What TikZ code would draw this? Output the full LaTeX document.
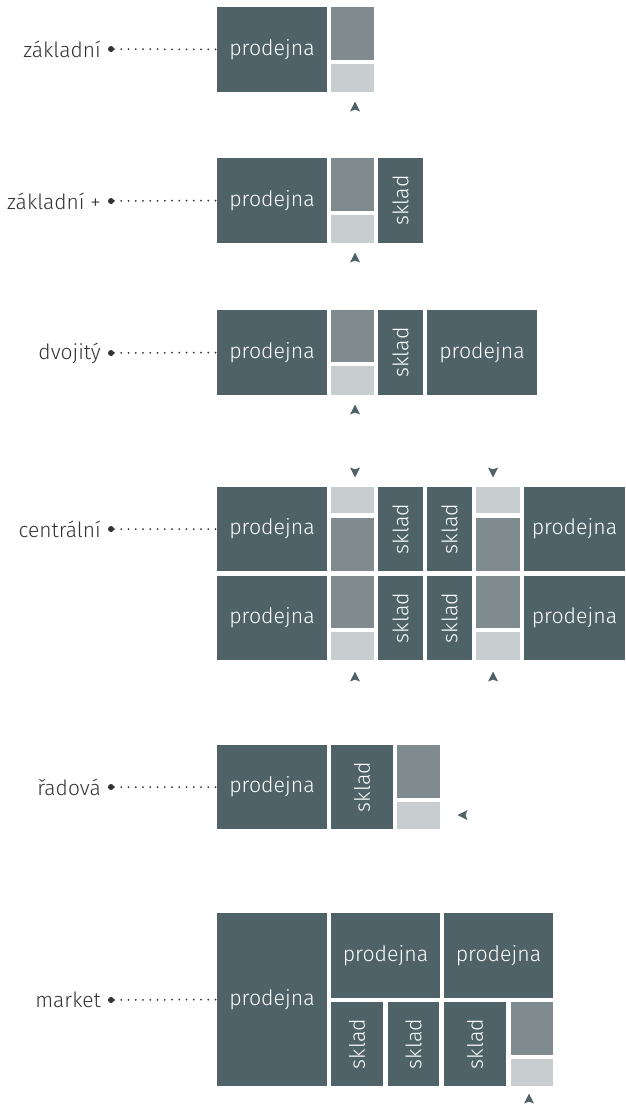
\documentclass[tikz,border=0pt]{standalone}
\usepackage{fontspec}
\setmainfont{Fira Sans Light}
\definecolor{dk}{HTML}{4F6267}
\definecolor{md}{HTML}{7F8B8E}
\definecolor{lt}{HTML}{C8CDCF}
\definecolor{lab}{HTML}{333333}
\newcommand\blk[7]{\node[#6, minimum width={#4-#2}, minimum height={#5-#3}] (#1) at ({(#2+#4)/2},{(#3+#5)/2}) {#7};}
\newcommand\skl{\rotatebox{90}{sklad}}
\begin{document}
\begin{tikzpicture}[x=1pt,y=-1pt,
  room/.style={inner sep=0pt, outer sep=0pt, draw=none},
  shop/.style={room, fill=dk, text=white, font=\fontsize{21.3}{25}\selectfont},
  mid/.style={room, fill=md},
  light/.style={room, fill=lt},
  lbl/.style={anchor=east, inner sep=0pt, text=lab, font=\fontsize{21}{25}\selectfont},
  dotnode/.style={circle, fill=lab, minimum size=6pt, inner sep=0pt, outer sep=0pt},
  dotline/.style={draw=lab, line width=2pt, line cap=round, dash pattern=on 0pt off 7.25pt},
  tri/.pic={\fill[dk] (0,-5.5) -- (5,4.5) -- (0,2.6) -- (-5,4.5) -- cycle;}
]
\useasboundingbox (0,0) rectangle (625,1106);

% row 1: zakladni
\blk{a1}{217}{7}{327}{92}{shop}{prodejna}
\blk{a2}{331}{7}{374}{60}{mid}{}
\blk{a3}{331}{64}{374}{92}{light}{}
\pic at (355,107) {tri};
\node[lbl] (la) at (101,49) {základní};
\node[dotnode] (da) at (111,49) {};
\draw[dotline] (da) -- (a1.west);

% row 2: zakladni +
\blk{b1}{217}{158}{327}{243}{shop}{prodejna}
\blk{b2}{331}{158}{374}{211}{mid}{}
\blk{b3}{331}{215}{374}{243}{light}{}
\blk{b4}{378}{158}{423}{243}{shop}{\skl}
\pic at (355,258) {tri};
\node[lbl] (lb) at (101,201) {základní +};
\node[dotnode] (db) at (111,201) {};
\draw[dotline] (db) -- (b1.west);

% row 3: dvojity
\blk{c1}{217}{310}{327}{395}{shop}{prodejna}
\blk{c2}{331}{310}{374}{362}{mid}{}
\blk{c3}{331}{366}{374}{395}{light}{}
\blk{c4}{378}{310}{423}{395}{shop}{\skl}
\blk{c5}{427}{310}{537}{395}{shop}{prodejna}
\pic at (355,410) {tri};
\node[lbl] (lc) at (101,353) {dvojitý};
\node[dotnode] (dc) at (111,353) {};
\draw[dotline] (dc) -- (c1.west);

% row 4: centralni
\blk{d1}{217}{487}{327}{571}{shop}{prodejna}
\blk{d2}{331}{487}{374}{513}{light}{}
\blk{d3}{331}{518}{374}{571}{mid}{}
\blk{d4}{378}{487}{423}{571}{shop}{\skl}
\blk{d5}{427}{487}{472}{571}{shop}{\skl}
\blk{d6}{476}{487}{520}{513}{light}{}
\blk{d7}{476}{518}{520}{571}{mid}{}
\blk{d8}{524}{487}{625}{571}{shop}{prodejna}
\blk{e1}{217}{576}{327}{660}{shop}{prodejna}
\blk{e2}{331}{576}{374}{628}{mid}{}
\blk{e3}{331}{632}{374}{660}{light}{}
\blk{e4}{378}{576}{423}{660}{shop}{\skl}
\blk{e5}{427}{576}{472}{660}{shop}{\skl}
\blk{e6}{476}{576}{520}{628}{mid}{}
\blk{e7}{476}{632}{520}{660}{light}{}
\blk{e8}{524}{576}{625}{660}{shop}{prodejna}
\pic[rotate=180] at (355,472) {tri};
\pic[rotate=180] at (493,472) {tri};
\pic at (355,677) {tri};
\pic at (493,677) {tri};
\node[lbl] (ld) at (101,529) {centrální};
\node[dotnode] (dd) at (111,529) {};
\draw[dotline] (dd) -- (d1.west);

% row 5: radova
\blk{f1}{217}{745}{327}{829}{shop}{prodejna}
\blk{f2}{331}{745}{393}{829}{shop}{\skl}
\blk{f3}{397}{745}{440}{798}{mid}{}
\blk{f4}{397}{802}{440}{829}{light}{}
\pic[rotate=90] at (463,815) {tri};
\node[lbl] (lf) at (101,787) {řadová};
\node[dotnode] (df) at (111,787) {};
\draw[dotline] (df) -- (f1.west);

% row 6: market
\blk{g1}{217}{913}{327}{1086}{shop}{prodejna}
\blk{g2}{331}{913}{440}{998}{shop}{prodejna}
\blk{g3}{444}{913}{553}{998}{shop}{prodejna}
\blk{g4}{331}{1002}{383}{1086}{shop}{\skl}
\blk{g5}{388}{1002}{439}{1086}{shop}{\skl}
\blk{g6}{444}{1002}{506}{1086}{shop}{\skl}
\blk{g7}{511}{1002}{553}{1055}{mid}{}
\blk{g8}{511}{1059}{553}{1086}{light}{}
\pic at (529,1099) {tri};
\node[lbl] (lg) at (101,1000) {market};
\node[dotnode] (dg) at (111,1000) {};
\draw[dotline] (dg) -- (g1.west);
\end{tikzpicture}
\end{document}
